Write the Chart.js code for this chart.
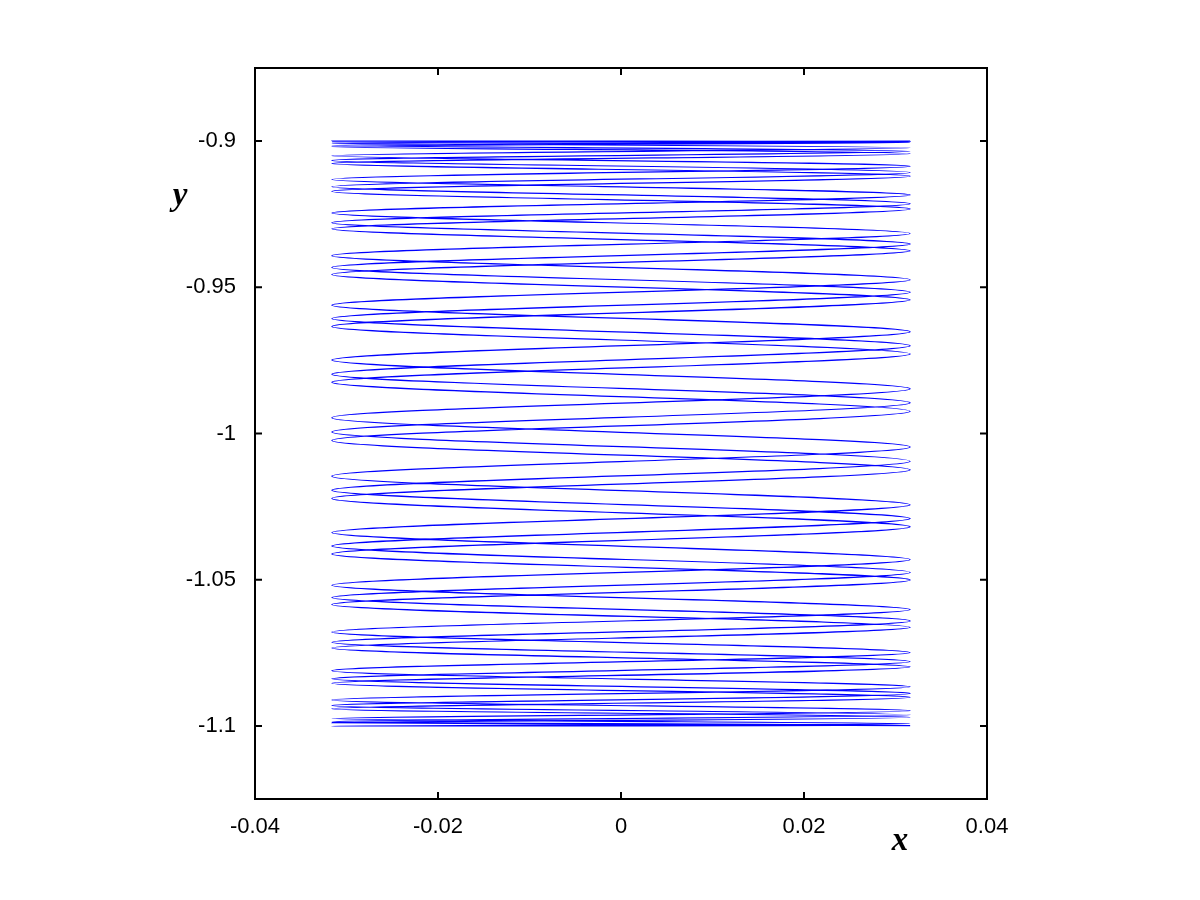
<!DOCTYPE html>
<html lang="en">
<head>
    <meta charset="UTF-8">
    <title>x-y trajectory</title>
    <script src="https://cdn.jsdelivr.net/npm/chart.js"></script>
    <style>
        body {
            margin: 0;
            background-color: #ffffff;
        }

        #orbitChart {
            display: block;
        }
    </style>
</head>
<body>
    <canvas id="orbitChart" width="1200" height="900"></canvas>

    <script>
        // half width of the loops (where the curve turns left / right)
        const xEdge = 0.0316;

        // y of each turning point, in drawing order (first one on the right side, then alternating)
        // first pass, going down
        const sweepDownY = [-0.9000, -0.9007, -0.9023, -0.9050, -0.9086, -0.9131, -0.9184, -0.9246,
            -0.9316, -0.9392, -0.9474, -0.9561, -0.9652, -0.9749, -0.9847, -0.9946,
            -1.0046, -1.0146, -1.0244, -1.0339, -1.0431, -1.0519, -1.0602, -1.0679,
            -1.0749, -1.0811, -1.0866, -1.0911, -1.0948, -1.0975, -1.0992, -1.1000];
        // second pass, going back up
        const sweepUpY = [-1.0997, -1.0985, -1.0962, -1.0930, -1.0889, -1.0839, -1.0780, -1.0714,
            -1.0641, -1.0561, -1.0475, -1.0385, -1.0291, -1.0194, -1.0095, -0.9995,
            -0.9895, -0.9797, -0.9700, -0.9607, -0.9517, -0.9432, -0.9352, -0.9279,
            -0.9214, -0.9156, -0.9107, -0.9066, -0.9035, -0.9014, -0.9002];
        // third pass, going down again
        const sweepDown2Y = [-0.9000, -0.9005, -0.9019, -0.9043, -0.9077, -0.9120, -0.9172, -0.9232,
            -0.9300, -0.9375, -0.9456, -0.9543, -0.9634, -0.9728, -0.9825, -0.9924,
            -1.0024, -1.0124, -1.0222, -1.0319, -1.0412, -1.0501, -1.0585, -1.0663,
            -1.0734, -1.0798, -1.0854, -1.0902, -1.0941, -1.0970, -1.0989, -1.0999];

        // axes
        const xTicks = [-0.04, -0.02, 0, 0.02, 0.04];
        const xTickLabels = ['-0.04', '-0.02', '0', '0.02', '0.04'];
        const yTicks = [-1.1, -1.05, -1, -0.95, -0.9];
        const yTickLabels = ['-1.1', '-1.05', '-1', '-0.95', '-0.9'];

        // turning points -> {x, y}, sides alternate right / left
        const turnY = sweepDownY.concat(sweepUpY, sweepDown2Y);
        const points = turnY.map((y, i) => ({ x: i % 2 === 0 ? xEdge : -xEdge, y: y }));

        // box around the plot with inward tick marks on all four sides
        const boxPlugin = {
            id: 'boxPlugin',
            afterDraw(chart) {
                const ctx = chart.ctx;
                const area = chart.chartArea;
                const xs = chart.scales.x;
                const ys = chart.scales.y;
                const len = 7;
                ctx.save();
                ctx.strokeStyle = '#000';
                ctx.lineWidth = 2;
                ctx.strokeRect(area.left, area.top, area.right - area.left, area.bottom - area.top);
                ctx.beginPath();
                xs.ticks.forEach(t => {
                    const px = xs.getPixelForValue(t.value);
                    ctx.moveTo(px, area.bottom);
                    ctx.lineTo(px, area.bottom - len);
                    ctx.moveTo(px, area.top);
                    ctx.lineTo(px, area.top + len);
                });
                ys.ticks.forEach(t => {
                    const py = ys.getPixelForValue(t.value);
                    ctx.moveTo(area.left, py);
                    ctx.lineTo(area.left + len, py);
                    ctx.moveTo(area.right, py);
                    ctx.lineTo(area.right - len, py);
                });
                ctx.stroke();

                // axis names
                ctx.fillStyle = '#000';
                ctx.font = 'italic bold 33px "Liberation Serif"';
                ctx.textAlign = 'center';
                ctx.textBaseline = 'alphabetic';
                ctx.fillText('y', 180, 205);
                ctx.fillText('x', 900, 850);
                ctx.restore();
            }
        };

        const ctx = document.getElementById('orbitChart').getContext('2d');
        new Chart(ctx, {
            type: 'scatter',
            data: {
                datasets: [{
                    data: points,
                    showLine: true,
                    borderColor: 'rgb(0, 0, 255)',
                    borderWidth: 1.2,
                    pointRadius: 0,
                    tension: 0.33,
                    fill: false
                }]
            },
            options: {
                responsive: false,
                animation: false,
                layout: {
                    padding: { left: 0, right: 213, top: 68, bottom: 0 }
                },
                plugins: {
                    legend: { display: false },
                    tooltip: { enabled: false }
                },
                scales: {
                    x: {
                        type: 'linear',
                        min: -0.04,
                        max: 0.04,
                        afterBuildTicks: scale => { scale.ticks = xTicks.map(v => ({ value: v })); },
                        afterFit: scale => { scale.height = 101; },
                        grid: { display: false, drawTicks: false },
                        border: { display: false },
                        ticks: {
                            padding: 15,
                            maxRotation: 0,
                            color: '#000',
                            font: { family: 'Liberation Sans', size: 22 },
                            callback: (v, i) => xTickLabels[i]
                        }
                    },
                    y: {
                        type: 'linear',
                        min: -1.125,
                        max: -0.875,
                        afterBuildTicks: scale => { scale.ticks = yTicks.map(v => ({ value: v })); },
                        afterFit: scale => { scale.width = 255; },
                        grid: { display: false, drawTicks: false },
                        border: { display: false },
                        ticks: {
                            padding: 19,
                            color: '#000',
                            font: { family: 'Liberation Sans', size: 22 },
                            callback: (v, i) => yTickLabels[i]
                        }
                    }
                }
            },
            plugins: [boxPlugin]
        });
    </script>
</body>
</html>
